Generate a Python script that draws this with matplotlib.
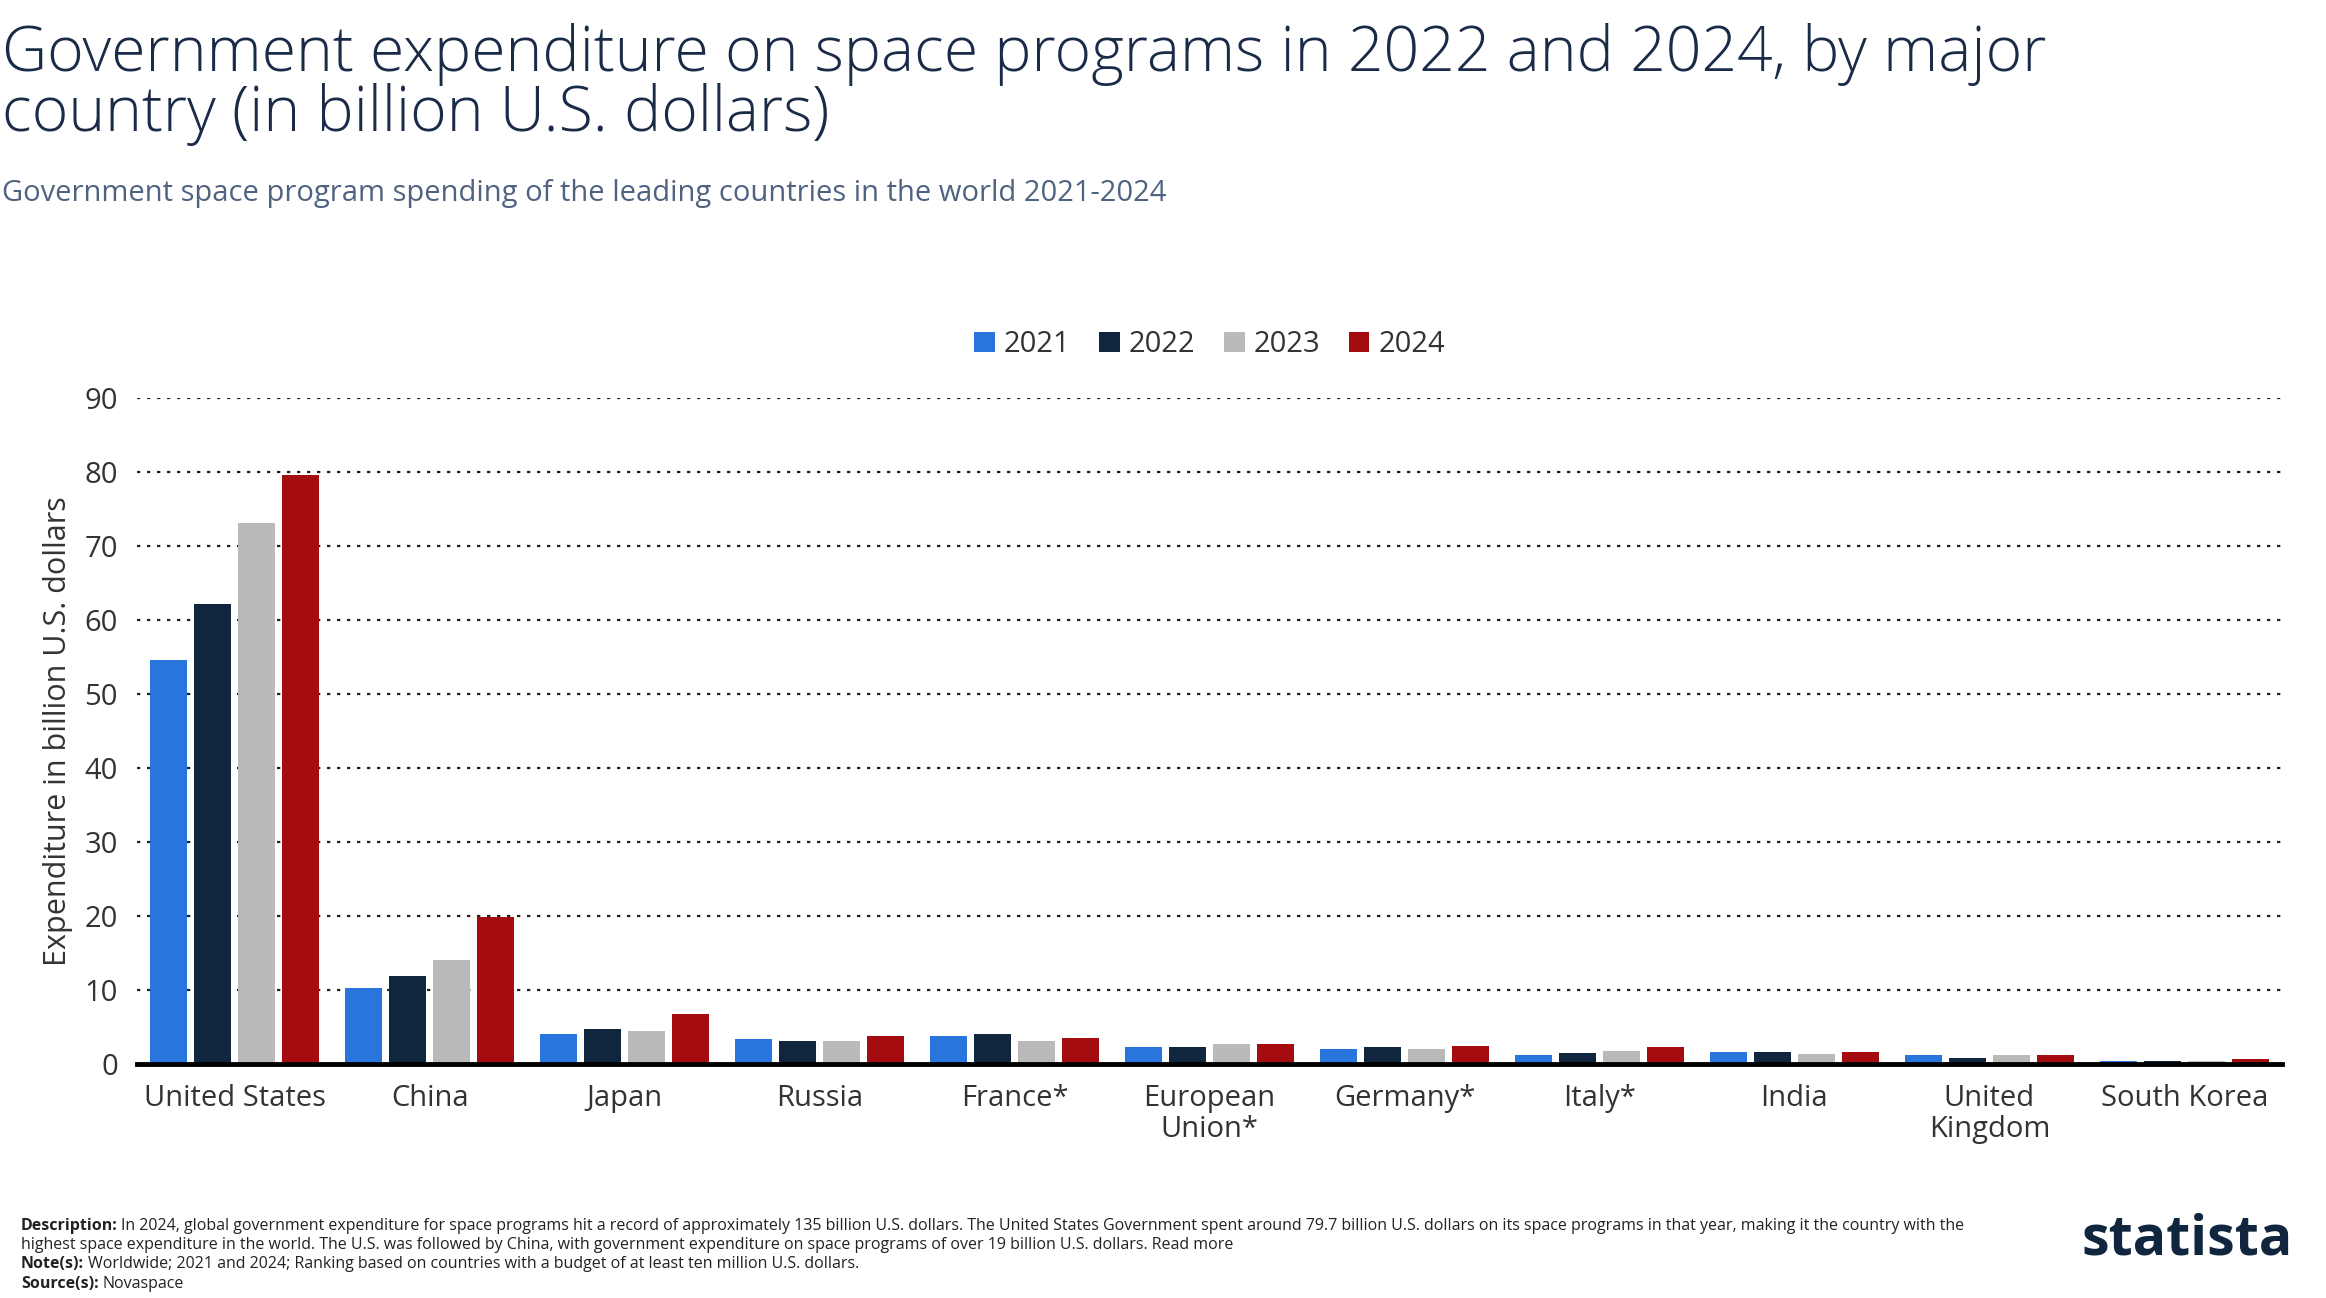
import matplotlib.pyplot as plt
import numpy as np

plt.rcParams['font.family'] = ['Open Sans', 'DejaVu Sans']

countries = ["United States", "China", "Japan", "Russia", "France*", "European\nUnion*",
             "Germany*", "Italy*", "India", "United\nKingdom", "South Korea"]
years = ["2021", "2022", "2023", "2024"]
v2021 = [54.6, 10.3, 4.1, 3.4, 3.8, 2.4, 2.1, 1.3, 1.7, 1.3, 0.4]
v2022 = [62.2, 11.9, 4.8, 3.2, 4.1, 2.4, 2.4, 1.5, 1.7, 0.8, 0.4]
v2023 = [73.2, 14.1, 4.5, 3.2, 3.2, 2.7, 2.1, 1.8, 1.4, 1.3, 0.4]
v2024 = [79.7, 19.9, 6.8, 3.8, 3.5, 2.8, 2.5, 2.4, 1.7, 1.3, 0.7]
colors = ["#2876dd", "#10263e", "#bababa", "#a50c0f"]

fig = plt.figure(figsize=(23.26, 12.98), dpi=100)
ax = fig.add_axes([0.059, 0.18, 0.927 - 0.005, 0.513])

x = np.arange(len(countries))
w = 0.19
gap = 0.225
for i, (vals, yr) in enumerate(zip([v2021, v2022, v2023, v2024], years)):
    ax.bar(x + (i - 1.5) * gap, vals, w, color=colors[i], label=yr, zorder=3)

ax.set_xlim(-0.5, len(countries) - 0.5)
ax.set_ylim(0, 90)
ax.set_yticks(range(0, 91, 10))
ax.yaxis.grid(True, linestyle=(0, (1.5, 3)), color="#222222", linewidth=1.6)
ax.set_axisbelow(True)
for s in ["top", "right", "left"]:
    ax.spines[s].set_visible(False)
ax.spines["bottom"].set_linewidth(3.5)
ax.spines["bottom"].set_zorder(4)
ax.tick_params(axis="both", length=0, labelsize=21, colors="#333333", pad=14)
ax.set_xticks(x)
ax.set_xticklabels(countries, linespacing=1.1)
ax.set_ylabel("Expenditure in billion U.S. dollars", fontsize=22, color="#333333", labelpad=8)

leg = ax.legend(loc="lower center", bbox_to_anchor=(0.5, 1.02), ncol=4, frameon=False,
                fontsize=21, handlelength=0.7, handleheight=0.7, handletextpad=0.3,
                columnspacing=1.0)
for t in leg.get_texts():
    t.set_color("#333333")

fig.text(0.001, 0.982, "Government expenditure on space programs in 2022 and 2024, by major\ncountry (in billion U.S. dollars)",
         fontsize=45, fontweight=300, color="#1a2b48", va="top", linespacing=0.93)
fig.text(0.001, 0.862, "Government space program spending of the leading countries in the world 2021-2024",
         fontsize=21, color="#4f6380", va="top")

fig.text(0.009, 0.062, "Description:", fontsize=11.5, fontweight="bold", color="#222222", va="top")
fig.text(0.052, 0.062, "In 2024, global government expenditure for space programs hit a record of approximately 135 billion U.S. dollars. The United States Government spent around 79.7 billion U.S. dollars on its space programs in that year, making it the country with the",
         fontsize=11.5, color="#222222", va="top")
fig.text(0.009, 0.047, "highest space expenditure in the world. The U.S. was followed by China, with government expenditure on space programs of over 19 billion U.S. dollars. Read more",
         fontsize=11.5, color="#222222", va="top")
fig.text(0.009, 0.032, "Note(s):", fontsize=11.5, fontweight="bold", color="#222222", va="top")
fig.text(0.038, 0.032, "Worldwide; 2021 and 2024; Ranking based on countries with a budget of at least ten million U.S. dollars.",
         fontsize=11.5, color="#222222", va="top")
fig.text(0.009, 0.017, "Source(s):", fontsize=11.5, fontweight="bold", color="#222222", va="top")
fig.text(0.044, 0.017, "Novaspace", fontsize=11.5, color="#222222", va="top")
fig.text(0.895, 0.045, "statista", fontsize=40, fontweight="bold", color="#10263e", va="center")

fig.savefig("out.png", dpi=100)
